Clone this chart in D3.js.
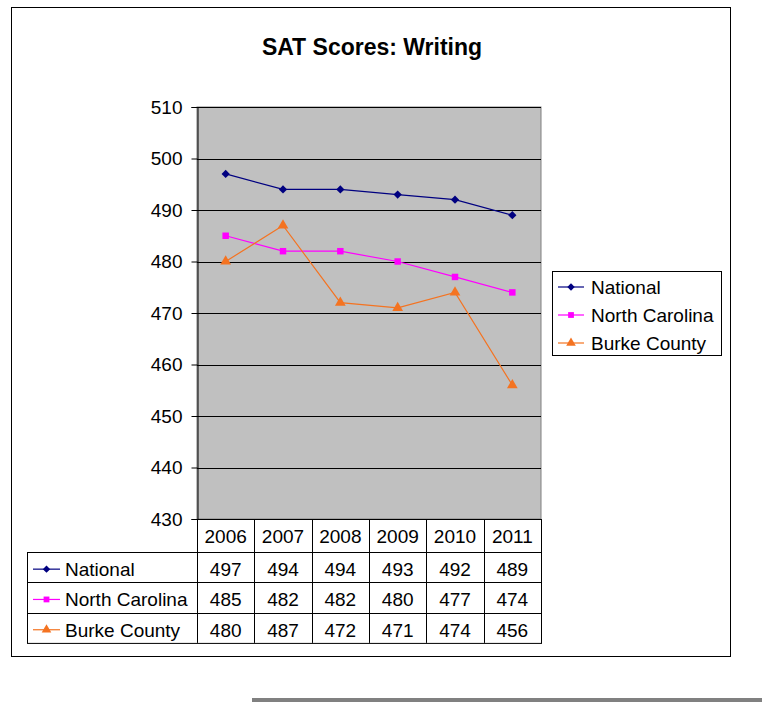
<!DOCTYPE html>
<html lang="en">
  <head>
    <title>SAT Scores: Writing</title>
    <meta charset="utf-8">
    <style>
      body { margin: 0; background: #ffffff; }
      text { font-family: Arial, "Liberation Sans", Helvetica, sans-serif; }
    </style>
    <script src="https://cdn.jsdelivr.net/npm/d3@7"></script>
  </head>
  <body>
    <div id="container"></div>
    <script>
      //-------------------------DATA-------------------------|
      var years = ['2006', '2007', '2008', '2009', '2010', '2011'];
      var seriesNames = ['National', 'North Carolina', 'Burke County'];
      var national = [497, 494, 494, 493, 492, 489];
      var northCarolina = [485, 482, 482, 480, 477, 474];
      var burkeCounty = [480, 487, 472, 471, 474, 456];
      var yTicks = [430, 440, 450, 460, 470, 480, 490, 500, 510];

      //-------------------------COLORS / MARKERS-------------------------|
      var colors = ['#000080', '#ff00ff', '#f47321'];
      // diamond = square turned 45 degrees
      var markers = [d3.symbolSquare, d3.symbolSquare, d3.symbolTriangle];
      var markerRot = [45, 0, 0];
      var markerSizes = [34, 42, 50];

      var series = [national, northCarolina, burkeCounty].map(function(v, i) {
        return {name: seriesNames[i], values: v, color: colors[i], marker: markers[i], rot: markerRot[i], size: markerSizes[i]};
      });

      var width = 762, height = 702;
      var plot = {left: 197, right: 541, top: 107, bottom: 519};
      var tableLeft = 27;
      var rowH = 30.3, headH = 33;
      var fs = "19px";

      var svg = d3.select("#container").append("svg")
                  .attr("width", width)
                  .attr("height", height);

      // chart frame
      svg.append("rect")
         .attr("x", 11.5).attr("y", 7.5)
         .attr("width", 719).attr("height", 649)
         .attr("fill", "#ffffff")
         .attr("stroke", "#000000")
         .attr("stroke-width", 1);

      // title
      svg.append("text")
         .attr("x", 372).attr("y", 55)
         .attr("text-anchor", "middle")
         .attr("font-size", "23px")
         .attr("font-weight", "bold")
         .text("SAT Scores: Writing");

      //-------------------------SCALES-------------------------|
      var x = d3.scaleBand().domain(years).range([plot.left, plot.right]);
      var y = d3.scaleLinear().domain([430, 510]).range([plot.bottom, plot.top]);

      // plot area
      svg.append("rect")
         .attr("x", plot.left).attr("y", plot.top)
         .attr("width", plot.right - plot.left)
         .attr("height", plot.bottom - plot.top)
         .attr("fill", "#c0c0c0")
         .attr("stroke", "#808080");

      // gridlines
      svg.append("g").selectAll("line")
         .data(yTicks.filter(function(t) { return t > 430; }))
         .join("line")
         .attr("x1", plot.left).attr("x2", plot.right)
         .attr("y1", function(d) { return Math.round(y(d)) + 0.5; })
         .attr("y2", function(d) { return Math.round(y(d)) + 0.5; })
         .attr("stroke", "#000000");

      // y axis
      var yAxis = d3.axisLeft(y).tickValues(yTicks).tickSize(6).tickPadding(9);
      var gy = svg.append("g")
         .attr("transform", "translate(" + (plot.left + 0.5) + ",0)")
         .call(yAxis);
      gy.select(".domain").attr("stroke", "#000000");
      gy.selectAll(".tick line").attr("stroke", "#000000");
      gy.selectAll(".tick text")
        .attr("font-size", fs)
        .attr("font-family", "Arial, 'Liberation Sans', sans-serif")
        .attr("fill", "#000000");

      //-------------------------LINES-------------------------|
      var line = d3.line()
         .x(function(d, i) { return x(years[i]) + x.bandwidth() / 2; })
         .y(function(d) { return y(d); });

      series.forEach(function(s) {
        svg.append("path")
           .attr("d", line(s.values))
           .attr("fill", "none")
           .attr("stroke", s.color)
           .attr("stroke-width", 1.2);
        svg.append("g").selectAll("path")
           .data(s.values)
           .join("path")
           .attr("d", d3.symbol().type(s.marker).size(s.size))
           .attr("transform", function(d, i) {
             return "translate(" + (x(years[i]) + x.bandwidth() / 2) + "," + y(d) + ") rotate(" + s.rot + ")";
           })
           .attr("fill", s.color);
      });

      //-------------------------DATA TABLE-------------------------|
      var table = svg.append("g");
      // header cells
      table.append("rect")
           .attr("x", plot.left + 0.5).attr("y", plot.bottom + 0.5)
           .attr("width", plot.right - plot.left).attr("height", headH)
           .attr("fill", "#ffffff").attr("stroke", "#000000");
      table.selectAll(".yr")
           .data(years)
           .join("text")
           .attr("class", "yr")
           .attr("x", function(d) { return x(d) + x.bandwidth() / 2; })
           .attr("y", plot.bottom + headH / 2 + 7)
           .attr("text-anchor", "middle")
           .attr("font-size", fs)
           .text(function(d) { return d; });

      var rowTop = plot.bottom + headH;
      // body outline
      table.append("rect")
           .attr("x", tableLeft + 0.5).attr("y", rowTop + 0.5)
           .attr("width", plot.right - tableLeft).attr("height", rowH * 3)
           .attr("fill", "#ffffff").attr("stroke", "#000000");
      // row separators
      table.selectAll(".rowline")
           .data([1, 2])
           .join("line")
           .attr("x1", tableLeft).attr("x2", plot.right)
           .attr("y1", function(d) { return Math.round(rowTop + d * rowH) + 0.5; })
           .attr("y2", function(d) { return Math.round(rowTop + d * rowH) + 0.5; })
           .attr("stroke", "#000000");
      // column separators
      table.selectAll(".colline")
           .data(years)
           .join("line")
           .attr("x1", function(d) { return Math.round(x(d)) + 0.5; })
           .attr("x2", function(d) { return Math.round(x(d)) + 0.5; })
           .attr("y1", plot.bottom).attr("y2", rowTop + rowH * 3)
           .attr("stroke", "#000000");

      series.forEach(function(s, r) {
        var cy = rowTop + rowH * r + rowH / 2 + 2;
        table.append("line")
             .attr("x1", 33).attr("x2", 60)
             .attr("y1", cy).attr("y2", cy)
             .attr("stroke", s.color).attr("stroke-width", 1.2);
        table.append("path")
             .attr("d", d3.symbol().type(s.marker).size(s.size * 0.8)())
             .attr("transform", "translate(46.5," + cy + ") rotate(" + s.rot + ")")
             .attr("fill", s.color);
        table.append("text")
             .attr("x", 65).attr("y", cy + 7)
             .attr("font-size", fs)
             .text(s.name);
        table.selectAll(".v" + r)
             .data(s.values)
             .join("text")
             .attr("x", function(d, i) { return x(years[i]) + x.bandwidth() / 2; })
             .attr("y", cy + 7)
             .attr("text-anchor", "middle")
             .attr("font-size", fs)
             .text(function(d) { return d; });
      });

      //-------------------------LEGEND-------------------------|
      var legend = svg.append("g");
      legend.append("rect")
            .attr("x", 552.5).attr("y", 271.5)
            .attr("width", 169).attr("height", 84)
            .attr("fill", "#ffffff").attr("stroke", "#000000");
      series.forEach(function(s, r) {
        var cy = 287 + r * 28;
        legend.append("line")
              .attr("x1", 558).attr("x2", 584)
              .attr("y1", cy).attr("y2", cy)
              .attr("stroke", s.color).attr("stroke-width", 1.2);
        legend.append("path")
              .attr("d", d3.symbol().type(s.marker).size(s.size * 0.8)())
              .attr("transform", "translate(571," + cy + ") rotate(" + s.rot + ")")
              .attr("fill", s.color);
        legend.append("text")
              .attr("x", 591).attr("y", cy + 7)
              .attr("font-size", fs)
              .text(s.name);
      });

      // gray bar below the chart
      svg.append("rect")
         .attr("x", 252).attr("y", 698)
         .attr("width", 510).attr("height", 4)
         .attr("fill", "#808080");
    </script>
  </body>
</html>
